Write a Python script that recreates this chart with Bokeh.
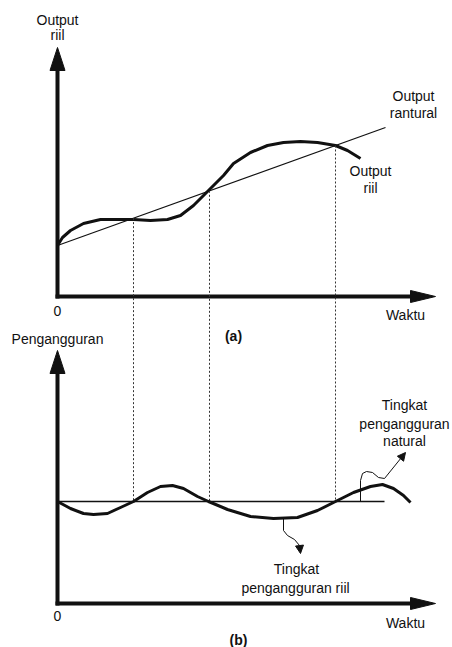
import numpy as np
from bokeh.plotting import figure
from bokeh.models import Range1d, Arrow, NormalHead
from bokeh.core.properties import value
from bokeh.embed import file_html
from bokeh.resources import INLINE

# ---------------- data ----------------
# panel (a): real output and natural output over time
output_t = [0.0, 0.5, 1.3, 2.6, 4.3, 6.0, 7.6, 9.3, 11.0, 12.3, 13.6, 15.1,
            16.6, 17.6, 19.3, 21.0, 22.6, 24.3, 26.0, 27.8, 29.0, 30.3]
output_riil = [5.1, 5.9, 6.6, 7.3, 7.7, 7.7, 7.7, 7.6, 7.7, 8.1, 9.1, 10.6,
               12.1, 13.3, 14.4, 15.1, 15.4, 15.5, 15.4, 15.1, 14.6, 13.8]
natural_output_t = [0.0, 32.8]
natural_output = [5.1, 16.9]

# times where real output equals natural output
crossing_t = [7.6, 15.2, 27.8]

# panel (b): real and natural unemployment
unemp_t = [0.0, 1.3, 2.6, 3.6, 5.0, 6.3, 7.6, 9.0, 10.3, 11.5, 12.6, 14.0,
           15.1, 17.0, 19.3, 21.6, 24.0, 26.0, 27.8, 29.6, 31.3, 32.5,
           33.6, 34.6, 35.3]
unemp_riil = [10.2, 9.5, 9.0, 8.9, 9.0, 9.6, 10.2, 11.1, 11.7, 11.8, 11.5,
              10.7, 10.2, 9.4, 8.7, 8.5, 8.6, 9.3, 10.2, 11.1, 11.7, 11.9,
              11.5, 10.8, 10.1]
natural_unemp_t = [0.0, 32.7]
natural_unemp = [10.2, 10.2]

# annotation pointer paths
natural_ptr_t = [30.3, 30.3, 30.5, 30.9, 31.5, 32.1, 32.7]
natural_ptr_v = [10.2, 12.3, 13.0, 13.2, 13.1, 12.6, 12.5]
natural_ptr_tip = (34.8, 15.1)
riil_ptr_t = [22.6, 22.6, 23.0, 23.7, 24.2]
riil_ptr_v = [8.5, 7.3, 6.8, 6.4, 5.8]
riil_ptr_tip = (24.3, 5.0)

# ---------------- style ----------------
FONT = value("Liberation Sans")
FS = "14px"
INK = "#111111"
W = 452
H = 647
X_RANGE = (-5.7, 39.5)
Y_TOP = (-35.1, 29.6)     # panel (a) units over the whole figure height
Y_BOT = (-4.4, 60.3)      # panel (b) units over the whole figure height
PANEL_GAP = 30.7          # offset of panel (b) units relative to panel (a)
X_TIP = 37.8
X_HEAD = 2.5
X_HALF = 0.6
Y_HEAD = 2.3
Y_HALF = 0.75

p = figure(width=W, height=H, x_range=Range1d(*X_RANGE), y_range=Range1d(*Y_TOP),
           x_axis_type=None, y_axis_type=None, toolbar_location=None,
           output_backend="svg", min_border=0, outline_line_color=None,
           background_fill_color="white", border_fill_color="white")
p.extra_y_ranges = {"bot": Range1d(*Y_BOT)}
p.grid.visible = False


def draw_axes(rn, y_tip):
    kw = dict(y_range_name=rn)
    p.line([0, 0], [-0.2, y_tip - Y_HEAD], line_width=4, line_color=INK, **kw)
    p.patch([0, -Y_HALF, Y_HALF], [y_tip, y_tip - Y_HEAD, y_tip - Y_HEAD],
            fill_color=INK, line_color=INK, line_width=1, **kw)
    p.line([-0.2, X_TIP - X_HEAD], [0, 0], line_width=4, line_color=INK, **kw)
    p.patch([X_TIP, X_TIP - X_HEAD, X_TIP - X_HEAD], [0, X_HALF, -X_HALF],
            fill_color=INK, line_color=INK, line_width=1, **kw)


def label(rn, x, y, txt, align="center", size=FS, weight="normal"):
    p.text(x=[x], y=[y], text=[txt], text_font=FONT, text_font_size=size,
           text_align=align, text_baseline="middle", text_color=INK,
           text_font_style=weight, y_range_name=rn)


# ---------------- panel (a) ----------------
draw_axes("default", 24.9)
cross_v = np.interp(crossing_t, natural_output_t, natural_output)
p.line(natural_output_t, natural_output, line_width=1.2, line_color=INK)
p.line(output_t, output_riil, line_width=3, line_color=INK, line_join="round")

label("default", 0, 27.7, "Output")
label("default", 0, 26.2, "riil")
label("default", 0, -1.4, "0")
label("default", 34.8, -1.8, "Waktu")
label("default", 35.6, 20.1, "Output")
label("default", 35.6, 18.4, "rantural")
label("default", 31.3, 12.6, "Output")
label("default", 31.3, 10.9, "riil")

# ---------------- panel (b) ----------------
draw_axes("bot", 25.3)
# dashed guides: from the natural-output line in (a) down to the natural-unemployment line in (b)
p.segment(x0=crossing_t, y0=list(cross_v), x1=crossing_t,
          y1=[natural_unemp[0] - PANEL_GAP] * 3,
          line_dash="2 2", line_width=1, line_color="#333333")
p.line(natural_unemp_t, natural_unemp, line_width=1.5, line_color=INK, y_range_name="bot")
p.line(unemp_t, unemp_riil, line_width=3, line_color=INK, line_join="round",
       y_range_name="bot")

# pointers
p.line(natural_ptr_t, natural_ptr_v, line_width=1, line_color=INK, y_range_name="bot")
p.add_layout(Arrow(x_start=natural_ptr_t[-1], y_start=natural_ptr_v[-1],
                   x_end=natural_ptr_tip[0], y_end=natural_ptr_tip[1],
                   line_width=1, line_color=INK, y_range_name="bot",
                   end=NormalHead(size=8, fill_color=INK, line_color=INK)))
p.line(riil_ptr_t, riil_ptr_v, line_width=1, line_color=INK, y_range_name="bot")
p.add_layout(Arrow(x_start=riil_ptr_t[-1], y_start=riil_ptr_v[-1],
                   x_end=riil_ptr_tip[0], y_end=riil_ptr_tip[1],
                   line_width=1, line_color=INK, y_range_name="bot",
                   end=NormalHead(size=8, fill_color=INK, line_color=INK)))

label("bot", 17.6, 26.8, "(a)", weight="bold")
label("bot", 0, 26.5, "Pengangguran")
label("bot", 0, -1.2, "0")
label("bot", 34.8, -1.9, "Waktu")
label("bot", 18.1, -3.6, "(b)", weight="bold")
label("bot", 34.7, 19.9, "Tingkat")
label("bot", 34.7, 18.0, "pengangguran")
label("bot", 34.7, 16.3, "natural")
label("bot", 23.9, 3.5, "Tingkat")
label("bot", 23.8, 1.6, "pengangguran riil")

open("out.html", "w").write(file_html(p, INLINE))
